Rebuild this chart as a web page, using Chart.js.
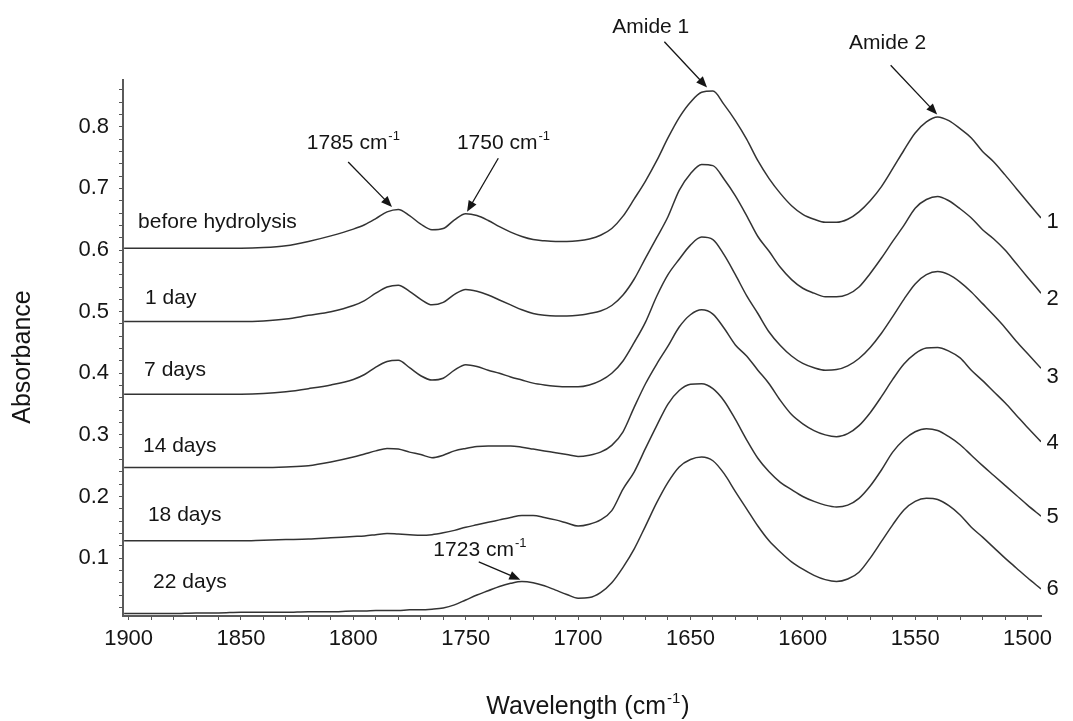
<!DOCTYPE html>
<html>
<head>
<meta charset="utf-8">
<script src="https://cdn.jsdelivr.net/npm/chart.js@4.4.1/dist/chart.umd.min.js"></script>
<style>
    html, body { margin: 0; padding: 0; background: #ffffff; }
    canvas { display: block; }
</style>
</head>
<body>
<canvas id="spectraChart" width="1073" height="721"></canvas>
<script>
// ================================
// Data
// ================================

// wavenumber, cm-1
const wavenumbers = [
    1902, 1890, 1880, 1870, 1860, 1850, 1840, 1830, 1820, 1810, 1800,
    1795, 1790, 1785, 1780, 1775, 1770, 1765, 1760, 1755,
    1750, 1745, 1740, 1735, 1730, 1725, 1720, 1715, 1710, 1705,
    1700, 1695, 1690, 1685, 1680, 1675, 1670, 1665, 1660, 1655,
    1650, 1645, 1640, 1635, 1630, 1625, 1620, 1615, 1610, 1605,
    1600, 1595, 1590, 1585, 1580, 1575, 1570, 1565, 1560, 1555,
    1550, 1545, 1540, 1535, 1530, 1525, 1520, 1515, 1510, 1505,
    1500, 1494
];

const beforeHydrolysis = [
    .603, .603, .603, .603, .603, .603, .604, .607, .614, .623, .634,
    .641, .651, .662, .666, .656, .642, .633, .635, .649,
    .659, .656, .648, .638, .629, .622, .617, .615, .614, .614,
    .615, .618, .624, .635, .655, .683, .712, .745, .782, .815,
    .840, .856, .858, .836, .810, .780, .745, .716, .692, .672,
    .658, .650, .645, .645, .650, .662, .680, .703, .732, .762,
    .790, .808, .816, .810, .797, .782, .760, .743, .722, .700,
    .678, .652
];

const day1 = [
    .484, .484, .484, .484, .484, .484, .485, .488, .494, .500, .510,
    .518, .530, .540, .543, .533, .520, .511, .515, .528,
    .536, .533, .527, .519, .511, .503, .497, .494, .493, .493,
    .494, .497, .501, .510, .527, .553, .587, .620, .654, .697,
    .724, .739, .737, .715, .688, .656, .622, .598, .572, .552,
    .538, .530, .524, .524, .528, .540, .562, .587, .614, .640,
    .668, .682, .687, .680, .667, .652, .633, .618, .600, .578,
    .556, .530
];

const day7 = [
    .366, .366, .366, .366, .366, .366, .367, .370, .375, .381, .390,
    .398, .410, .419, .421, .409, .396, .389, .392, .405,
    .414, .411, .405, .400, .394, .389, .384, .381, .379, .378,
    .378, .381, .388, .400, .420, .450, .483, .525, .560, .585,
    .608, .621, .617, .592, .560, .526, .497, .467, .445, .428,
    .416, .409, .405, .406, .412, .424, .442, .465, .492, .520,
    .545, .560, .565, .560, .548, .532, .513, .494, .474, .452,
    .432, .408
];

const day14 = [
    .247, .247, .247, .247, .247, .247, .247, .248, .250, .256, .264,
    .269, .274, .278, .277, .272, .268, .263, .267, .274,
    .278, .281, .282, .282, .282, .280, .277, .274, .271, .268,
    .265, .267, .272, .283, .305, .345, .383, .415, .444, .475,
    .495, .503, .496, .473, .446, .428, .405, .383, .356, .333,
    .318, .307, .300, .297, .302, .315, .336, .362, .390, .415,
    .432, .441, .442, .436, .425, .405, .388, .370, .352, .332,
    .312, .289
];

const day18 = [
    .128, .128, .128, .128, .128, .128, .129, .130, .131, .133, .135,
    .136, .138, .140, .139, .138, .137, .138, .141, .145,
    .150, .154, .158, .162, .166, .169, .169, .166, .162, .157,
    .152, .155, .162, .177, .212, .240, .278, .315, .350, .372,
    .382, .383, .375, .355, .325, .292, .262, .240, .223, .211,
    .200, .192, .186, .183, .186, .197, .217, .243, .272, .292,
    .305, .310, .307, .297, .284, .267, .250, .234, .218, .202,
    .186, .168
];

const day22 = [
    .010, .010, .010, .011, .011, .012, .012, .012, .013, .013, .014,
    .014, .015, .015, .015, .016, .016, .017, .019, .024,
    .032, .040, .047, .054, .059, .062, .060, .055, .048, .041,
    .035, .036, .044, .060, .085, .115, .152, .190, .223, .248,
    .260, .264, .258, .237, .208, .180, .152, .128, .110, .094,
    .082, .072, .065, .062, .066, .077, .100, .127, .154, .178,
    .192, .197, .195, .185, .170, .150, .134, .117, .100, .084,
    .068, .050
];

const seriesNames = ["before hydrolysis", "1 day", "7 days", "14 days", "18 days", "22 days"];
const seriesValues = [beforeHydrolysis, day1, day7, day14, day18, day22];
const curveNumbers = ["1", "2", "3", "4", "5", "6"];

// tick labels
const xTickLabels = [1900, 1850, 1800, 1750, 1700, 1650, 1600, 1550, 1500];
const yTickLabels = [0.1, 0.2, 0.3, 0.4, 0.5, 0.6, 0.7, 0.8];

// ================================
// Annotation placement (data units)
// ================================

const nameAnchorX = [1895.8, 1892.7, 1893.1, 1893.6, 1891.4, 1889.1];
const nameAnchorY = [0.645, 0.522, 0.405, 0.281, 0.169, 0.061];
const numberAnchorX = 1491.6;
const numberAnchorY = [0.645, 0.520, 0.394, 0.287, 0.167, 0.050];

const peakNotes = [
    { text: "1785 cm", sup: "-1", tx: 1820.7, ty: 0.774, from: [1802.3, 0.743], to: [1782.8, 0.670] },
    { text: "1750 cm", sup: "-1", tx: 1753.9, ty: 0.774, from: [1735.5, 0.749], to: [1749.4, 0.662] },
    { text: "Amide 1", sup: "",   tx: 1684.8, ty: 0.962, from: [1661.6, 0.938], to: [1642.6, 0.864] },
    { text: "Amide 2", sup: "",   tx: 1579.4, ty: 0.936, from: [1560.9, 0.900], to: [1540.2, 0.820] },
    { text: "1723 cm", sup: "-1", tx: 1764.4, ty: 0.113, from: [1744.2, 0.094], to: [1725.7, 0.065] }
];

// ================================
// Helpers
// ================================

const FONT = "'Liberation Sans', Arial, sans-serif";
const INK = "#151515";

function drawSupText(ctx, text, sup, tail, x, y, size) {
    ctx.font = size + "px " + FONT;
    ctx.textBaseline = "middle";
    ctx.textAlign = "left";
    ctx.fillText(text, x, y);
    let w = ctx.measureText(text).width;
    if (sup) {
        const s = Math.round(size * 0.6);
        ctx.font = s + "px " + FONT;
        ctx.fillText(sup, x + w + 1, y - size * 0.32);
        w += ctx.measureText(sup).width + 2;
    }
    if (tail) {
        ctx.font = size + "px " + FONT;
        ctx.fillText(tail, x + w, y);
    }
}

function drawArrow(ctx, x1, y1, x2, y2) {
    const ang = Math.atan2(y2 - y1, x2 - x1);
    const len = 11, half = 4.5;
    ctx.strokeStyle = INK;
    ctx.fillStyle = INK;
    ctx.lineWidth = 1.3;
    ctx.beginPath();
    ctx.moveTo(x1, y1);
    ctx.lineTo(x2 - Math.cos(ang) * len * 0.8, y2 - Math.sin(ang) * len * 0.8);
    ctx.stroke();
    ctx.beginPath();
    ctx.moveTo(x2, y2);
    ctx.lineTo(x2 - Math.cos(ang) * len - Math.sin(ang) * half, y2 - Math.sin(ang) * len + Math.cos(ang) * half);
    ctx.lineTo(x2 - Math.cos(ang) * len + Math.sin(ang) * half, y2 - Math.sin(ang) * len - Math.cos(ang) * half);
    ctx.closePath();
    ctx.fill();
}

// ================================
// Annotation plugin
// ================================

const notesPlugin = {
    id: "notes",
    afterDraw(chart) {
        const ctx = chart.ctx;
        const xs = chart.scales.x;
        const ys = chart.scales.y;
        const area = chart.chartArea;

        ctx.save();
        ctx.fillStyle = INK;

        // series names on the left
        seriesNames.forEach((name, i) => {
            drawSupText(ctx, name, "", "", xs.getPixelForValue(nameAnchorX[i]), ys.getPixelForValue(nameAnchorY[i]), 21);
        });

        // curve numbers on the right
        curveNumbers.forEach((n, i) => {
            drawSupText(ctx, n, "", "", xs.getPixelForValue(numberAnchorX), ys.getPixelForValue(numberAnchorY[i]), 22);
        });

        // peak notes + arrows
        peakNotes.forEach(note => {
            ctx.fillStyle = INK;
            drawSupText(ctx, note.text, note.sup, "", xs.getPixelForValue(note.tx), ys.getPixelForValue(note.ty), 21);
            drawArrow(ctx,
                xs.getPixelForValue(note.from[0]), ys.getPixelForValue(note.from[1]),
                xs.getPixelForValue(note.to[0]), ys.getPixelForValue(note.to[1]));
        });

        // axis titles
        ctx.fillStyle = INK;
        ctx.save();
        ctx.translate(23, (area.top + area.bottom) / 2 + 9);
        ctx.rotate(-Math.PI / 2);
        ctx.font = "25px " + FONT;
        ctx.textAlign = "center";
        ctx.textBaseline = "middle";
        ctx.fillText("Absorbance", 0, 0);
        ctx.restore();

        ctx.font = "25px " + FONT;
        const t1 = "Wavelength (cm";
        const w1 = ctx.measureText(t1).width;
        ctx.font = "15px " + FONT;
        const w2 = ctx.measureText("-1").width + 2;
        ctx.font = "25px " + FONT;
        const w3 = ctx.measureText(")").width;
        const cx = (area.left + area.right) / 2 + 6;
        drawSupText(ctx, t1, "-1", ")", cx - (w1 + w2 + w3) / 2, 707, 25);

        ctx.restore();
    }
};

// ================================
// Chart
// ================================

const ctx = document.getElementById("spectraChart").getContext("2d");

const chart = new Chart(ctx, {
    type: "line",
    data: {
        datasets: seriesValues.map((vals, i) => ({
            label: seriesNames[i],
            data: wavenumbers.map((w, j) => ({ x: w, y: vals[j] })),
            borderColor: "#333333",
            borderWidth: 1.5,
            pointRadius: 0,
            fill: false,
            cubicInterpolationMode: "monotone"
        }))
    },
    options: {
        responsive: false,
        animation: false,
        events: [],
        layout: {
            padding: { top: 80, right: 32, bottom: 0, left: 0 }
        },
        plugins: {
            legend: { display: false },
            tooltip: { enabled: false }
        },
        scales: {
            x: {
                type: "linear",
                reverse: true,
                min: 1494,
                max: 1902.5,
                afterBuildTicks: scale => {
                    const t = [];
                    for (let v = 1500; v <= 1900; v += 10) t.push({ value: v });
                    scale.ticks = t;
                },
                afterFit: scale => { scale.height = 105; },
                grid: {
                    display: true,
                    drawOnChartArea: false,
                    drawTicks: true,
                    tickLength: 4,
                    color: "#555555",
                    lineWidth: 1
                },
                border: { display: true, color: "#5a5a5a", width: 2 },
                ticks: {
                    autoSkip: false,
                    maxRotation: 0,
                    padding: 6,
                    color: INK,
                    font: { family: FONT, size: 22 },
                    callback: v => xTickLabels.includes(v) ? String(v) : ""
                }
            },
            y: {
                min: 0.006,
                max: 0.876,
                afterBuildTicks: scale => {
                    const t = [];
                    for (let k = 1; k <= 43; k++) t.push({ value: k * 0.02 });
                    scale.ticks = t;
                },
                afterFit: scale => { scale.width = 123; },
                grid: {
                    display: true,
                    drawOnChartArea: false,
                    drawTicks: true,
                    tickLength: 4,
                    color: "#555555",
                    lineWidth: 1
                },
                border: { display: true, color: "#5a5a5a", width: 2 },
                ticks: {
                    autoSkip: false,
                    padding: 10,
                    color: INK,
                    font: { family: FONT, size: 22 },
                    callback: v => {
                        const hit = yTickLabels.find(t => Math.abs(t - v) < 1e-6);
                        return hit !== undefined ? hit.toFixed(1) : "";
                    }
                }
            }
        }
    },
    plugins: [notesPlugin]
});
</script>
</body>
</html>
